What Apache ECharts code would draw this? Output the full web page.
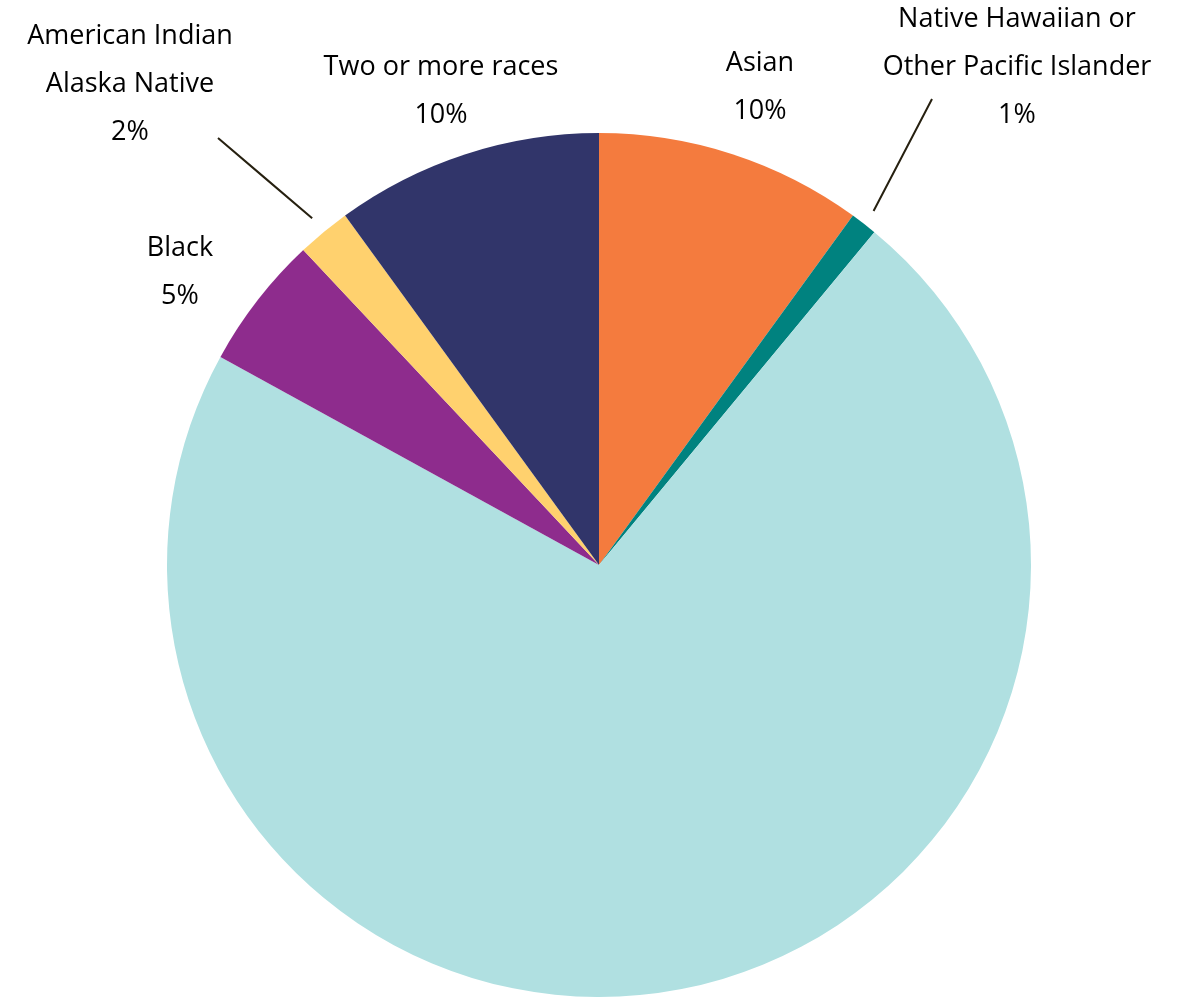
<!DOCTYPE html>
<html>
<head>
<meta charset="utf-8">
<title>Population by race</title>
<script src="https://cdn.jsdelivr.net/npm/echarts@6/dist/echarts.min.js"></script>
<style>
  html, body { margin: 0; padding: 0; background: #ffffff; }
  #chart { width: 1180px; height: 997px; }
</style>
</head>
<body>
<div id="chart"></div>
<script>
// Race groups, clockwise from 12 o'clock
const categories = [
  'Asian',
  'Native Hawaiian or\nOther Pacific Islander',
  'White',
  'Black',
  'American Indian\nAlaska Native',
  'Two or more races'
];
// Share of population, percent
const shares = [10, 1, 72, 5, 2, 10];
// Whether a slice carries a label
const showLabel = [true, true, false, true, true, true];
// Whether a labelled slice gets a leader line
const showLeader = [false, true, false, false, true, false];

const colors = ['#F47B3E', '#00827F', '#B0E0E1', '#8E2C8D', '#FFD16E', '#31356A'];

// Label anchor (centre of text block) per slice, in pixels
const labelAnchors = {
  0: [760, 87],
  1: [1017, 67],
  3: [180, 272],
  4: [130, 84],
  5: [441, 91]
};
// Where the leader lines end, next to their labels
const leaderEnds = {
  1: [932, 99],
  4: [218, 138]
};
// Distance between slice edge and leader line start
const leaderGaps = { 1: 16, 4: 18 };

const CX = 599, CY = 565, R = 432;

const data = categories.map((name, i) => ({
  name: name,
  value: shares[i],
  itemStyle: { color: colors[i] },
  label: { show: showLabel[i] },
  labelLine: { show: showLeader[i] }
}));

const chart = echarts.init(document.getElementById('chart'), null, { renderer: 'canvas' });

chart.setOption({
  backgroundColor: '#ffffff',
  animation: false,
  series: [{
    type: 'pie',
    center: [CX, CY],
    radius: [0, R],
    startAngle: 90,
    clockwise: true,
    avoidLabelOverlap: false,
    itemStyle: { borderWidth: 0 },
    emphasis: { disabled: true },
    label: {
      position: 'outside',
      alignTo: 'none',
      width: 380,
      overflow: 'none',
      align: 'center',
      fontFamily: 'Open Sans',
      fontSize: 27,
      lineHeight: 48,
      color: '#000000',
      formatter: p => p.name + '\n' + p.value + '%'
    },
    labelLine: {
      lineStyle: { color: '#262010', width: 2 }
    },
    labelLayout: function (params) {
      const i = params.dataIndex;
      const anchor = labelAnchors[i];
      if (!anchor) return {};
      const out = {
        x: anchor[0],
        y: anchor[1],
        align: 'center',
        verticalAlign: 'middle'
      };
      if (leaderEnds[i] && params.labelLinePoints) {
        // start a little outside the slice edge, along its radius
        const p0 = params.labelLinePoints[0];
        const dx = p0[0] - CX, dy = p0[1] - CY;
        const len = Math.sqrt(dx * dx + dy * dy);
        const gap = leaderGaps[i];
        const start = [p0[0] + dx / len * gap, p0[1] + dy / len * gap];
        const end = leaderEnds[i];
        out.labelLinePoints = [start, [(start[0] + end[0]) / 2, (start[1] + end[1]) / 2], end];
      }
      return out;
    },
    data: data
  }]
});
</script>
</body>
</html>
